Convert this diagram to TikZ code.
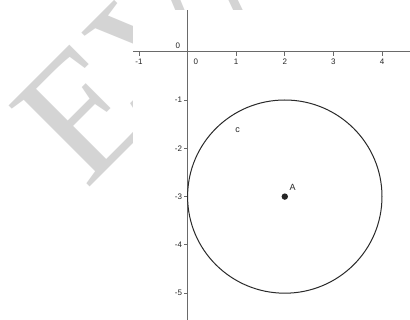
\documentclass[tikz,border=0pt]{standalone}
\usepackage{fontspec}
\setmainfont{Liberation Sans}
\newfontfamily\wmfont{Liberation Serif}
\definecolor{axisgray}{HTML}{6A6A6A}
\definecolor{wmgray}{HTML}{D4D4D4}
\definecolor{curvecol}{HTML}{2A2A2A}
\begin{document}
\begin{tikzpicture}[x=1pt,y=1pt,
  axisline/.style={draw=axisgray,line width=1.3pt},
  tickmark/.style={draw=axisgray,line width=0.8pt},
  ticklabel/.style={font=\fontsize{8}{9}\selectfont,inner sep=0pt,text=black!85},
  objlabel/.style={font=\fontsize{9}{10}\selectfont,inner sep=0pt,text=black!85}]
\useasboundingbox (0,0) rectangle (410,-320);
\fill[white] (0,0) rectangle (410,-320);
% watermark
\begin{scope}
\clip (0,0) rectangle (410,-320);
\node[rotate=45,anchor=base west,inner sep=0pt,text=wmgray,font=\wmfont\fontsize{175}{175}\selectfont] (wm) at (86,-191) {EVALUATION};
\end{scope}
% graph canvas
\fill[white] (133,-10) rectangle (410,-320);
\begin{scope}[shift={(187.6,-51.7)},x=48.6pt,y=48.3pt]
  \coordinate (xl) at (-1.12,0);
  \coordinate (xr) at (4.75,0);
  \coordinate (yt) at (0,0.86);
  \coordinate (yb) at (0,-5.6);
  \draw[axisline] (xl) -- (xr);
  \draw[axisline] (yt) -- (yb);
  \foreach \k in {-1,1,2,3,4} {
    \coordinate (tx\k) at (\k,0);
    \draw[tickmark] (tx\k) -- ++(0,-4pt);
    \node[ticklabel] (lx\k) at (\k,-0.21) {\k};
  }
  \node[ticklabel] (lx0) at (0.17,-0.21) {0};
  \node[ticklabel] (ly0) at (-0.2,0.12) {0};
  \foreach \k in {1,2,3,4,5} {
    \coordinate (ty\k) at (0,-\k);
    \draw[tickmark] (ty\k) -- ++(-4pt,0);
    \node[ticklabel,anchor=east] (ly\k) at (-0.11,-\k) {-\k};
  }
  \coordinate (A) at (2,-3);
  \draw[curvecol,line width=1pt] (A) ellipse [x radius=2, y radius=2];
  \fill[black!85] (A) circle[radius=3.2pt];
  \node[objlabel] (Alab) at (2.16,-2.80) {A};
  \node[objlabel] (clab) at (1.03,-1.62) {c};
\end{scope}
\end{tikzpicture}
\end{document}
